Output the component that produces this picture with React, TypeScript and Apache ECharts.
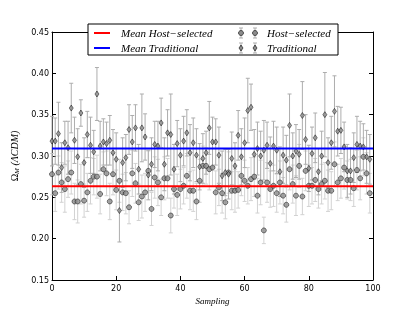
import React, { useEffect, useRef } from "react";
import * as echarts from "echarts";

const sampling: number[] = Array.from({ length: 100 }, (_, i) => i);

const hostValues: number[] = [
  0.278, 0.255, 0.280, 0.268, 0.260, 0.272, 0.280, 0.245, 0.245, 0.266,
  0.246, 0.256, 0.270, 0.275, 0.275, 0.254, 0.284, 0.279, 0.245, 0.278,
  0.259, 0.270, 0.256, 0.255, 0.238, 0.279, 0.267, 0.244, 0.251, 0.256,
  0.282, 0.236, 0.274, 0.268, 0.250, 0.273, 0.273, 0.228, 0.260, 0.253,
  0.260, 0.264, 0.276, 0.258, 0.258, 0.245, 0.270, 0.288, 0.288, 0.284,
  0.286, 0.256, 0.262, 0.255, 0.244, 0.280, 0.258, 0.258, 0.259, 0.276,
  0.270, 0.264, 0.272, 0.275, 0.252, 0.268, 0.210, 0.268, 0.260, 0.264,
  0.255, 0.268, 0.252, 0.241, 0.284, 0.266, 0.252, 0.288, 0.251, 0.282,
  0.264, 0.264, 0.271, 0.260, 0.266, 0.270, 0.258, 0.258, 0.290, 0.268,
  0.273, 0.286, 0.271, 0.271, 0.261, 0.283, 0.273, 0.299, 0.279, 0.255,
];

const hostErrors: number[] = [
  0.025, 0.022, 0.020, 0.024, 0.028, 0.022, 0.026, 0.022, 0.026, 0.024,
  0.020, 0.023, 0.028, 0.022, 0.026, 0.024, 0.021, 0.027, 0.022, 0.025,
  0.024, 0.026, 0.022, 0.025, 0.020, 0.028, 0.024, 0.022, 0.026, 0.023,
  0.024, 0.020, 0.025, 0.028, 0.022, 0.026, 0.024, 0.021, 0.023, 0.025,
  0.024, 0.022, 0.027, 0.023, 0.025, 0.022, 0.026, 0.024, 0.022, 0.025,
  0.023, 0.026, 0.022, 0.024, 0.020, 0.025, 0.023, 0.026, 0.022, 0.024,
  0.025, 0.022, 0.026, 0.024, 0.021, 0.027, 0.016, 0.024, 0.022, 0.025,
  0.023, 0.026, 0.022, 0.021, 0.025, 0.023, 0.024, 0.026, 0.022, 0.024,
  0.025, 0.022, 0.026, 0.023, 0.024, 0.022, 0.025, 0.023, 0.027, 0.022,
  0.024, 0.026, 0.023, 0.025, 0.022, 0.024, 0.026, 0.023, 0.025, 0.024,
];

const tradValues: number[] = [
  0.318, 0.318, 0.327, 0.286, 0.316, 0.310, 0.358, 0.319, 0.299, 0.352,
  0.292, 0.326, 0.313, 0.305, 0.375, 0.312, 0.317, 0.315, 0.319, 0.304,
  0.296, 0.234, 0.292, 0.298, 0.332, 0.317, 0.334, 0.284, 0.334, 0.323,
  0.277, 0.290, 0.314, 0.312, 0.340, 0.290, 0.328, 0.326, 0.284, 0.315,
  0.301, 0.318, 0.328, 0.304, 0.316, 0.301, 0.287, 0.297, 0.304, 0.334,
  0.317, 0.317, 0.301, 0.276, 0.280, 0.278, 0.297, 0.288, 0.325, 0.299,
  0.316, 0.355, 0.359, 0.302, 0.309, 0.300, 0.307, 0.313, 0.291, 0.312,
  0.307, 0.281, 0.301, 0.295, 0.337, 0.300, 0.306, 0.302, 0.349, 0.320,
  0.285, 0.303, 0.322, 0.281, 0.300, 0.350, 0.292, 0.316, 0.354, 0.330,
  0.331, 0.311, 0.282, 0.282, 0.298, 0.314, 0.312, 0.311, 0.299, 0.296,
];

const tradErrors: number[] = [
  0.030, 0.028, 0.038, 0.030, 0.026, 0.032, 0.030, 0.028, 0.034, 0.016,
  0.030, 0.028, 0.034, 0.026, 0.032, 0.030, 0.028, 0.026, 0.030, 0.028,
  0.032, 0.038, 0.030, 0.028, 0.030, 0.032, 0.028, 0.030, 0.041, 0.028,
  0.030, 0.032, 0.028, 0.030, 0.030, 0.032, 0.028, 0.049, 0.030, 0.028,
  0.032, 0.030, 0.028, 0.034, 0.030, 0.032, 0.028, 0.030, 0.026, 0.032,
  0.030, 0.028, 0.034, 0.030, 0.028, 0.030, 0.032, 0.028, 0.030, 0.034,
  0.030, 0.039, 0.028, 0.030, 0.032, 0.030, 0.036, 0.028, 0.032, 0.030,
  0.028, 0.030, 0.034, 0.030, 0.038, 0.028, 0.032, 0.030, 0.041, 0.030,
  0.028, 0.032, 0.030, 0.028, 0.030, 0.051, 0.030, 0.032, 0.043, 0.030,
  0.028, 0.030, 0.032, 0.028, 0.030, 0.034, 0.030, 0.028, 0.032, 0.030,
];

const meanHost = 0.2635;
const meanTrad = 0.309;
const xTicks = { min: 0, max: 100, interval: 20 };
const yTicks = { min: 0.15, max: 0.45, interval: 0.05 };

const MARKER_FILL = "#8c8c8c";
const HOST_ERR = "#d2d2d2";
const TRAD_ERR = "#adadad";

function errorSeries(name: string, vals: number[], errs: number[], color: string) {
  return {
    type: "custom",
    name,
    silent: true,
    z: 1,
    data: sampling.map((x, i) => [x, vals[i], errs[i]]),
    encode: { x: 0, y: 1 },
    renderItem: (_p: any, api: any) => {
      const x = api.value(0);
      const y = api.value(1);
      const e = api.value(2);
      const t = api.coord([x, y + e]);
      const b = api.coord([x, y - e]);
      const cw = 2;
      const st = { stroke: color, lineWidth: 1 };
      return {
        type: "group",
        children: [
          { type: "line", shape: { x1: t[0], y1: t[1], x2: b[0], y2: b[1] }, style: st },
          { type: "line", shape: { x1: t[0] - cw, y1: t[1], x2: t[0] + cw, y2: t[1] }, style: st },
          { type: "line", shape: { x1: b[0] - cw, y1: b[1], x2: b[0] + cw, y2: b[1] }, style: st },
        ],
      };
    },
  };
}

export default function App() {
  const ref = useRef<HTMLDivElement>(null);
  useEffect(() => {
    if (!ref.current) return;
    const chart = echarts.init(ref.current, null, { renderer: "svg" });
    const axisCommon = {
      type: "value",
      axisLine: { show: true, onZero: false, lineStyle: { color: "#000", width: 1 } },
      axisTick: { show: true, inside: true, length: 4, lineStyle: { color: "#000" } },
      splitLine: { show: false },
    };
    const labelStyle = { color: "#000", fontSize: 8, fontFamily: "DejaVu Sans" };
    const serifItalic = { fontFamily: "Liberation Serif", fontStyle: "italic", color: "#000" };

    const Z = 100;
    const legendMarker = (cx: number, cy: number, kind: string, errColor: string) => {
      const st = { stroke: errColor, lineWidth: 1 };
      const shape =
        kind === "circle"
          ? { type: "circle", z: Z + 2, shape: { cx, cy, r: 2.5 }, style: { fill: MARKER_FILL, stroke: "#000", lineWidth: 0.6 } }
          : {
              type: "polygon",
              z: Z + 2,
              shape: { points: [[cx, cy - 3], [cx + 2, cy], [cx, cy + 3], [cx - 2, cy]] },
              style: { fill: MARKER_FILL, stroke: "#000", lineWidth: 0.6 },
            };
      return [
        { type: "line", z: Z + 1, shape: { x1: cx, y1: cy - 5, x2: cx, y2: cy + 5 }, style: st },
        { type: "line", z: Z + 1, shape: { x1: cx - 2, y1: cy - 5, x2: cx + 2, y2: cy - 5 }, style: st },
        { type: "line", z: Z + 1, shape: { x1: cx - 2, y1: cy + 5, x2: cx + 2, y2: cy + 5 }, style: st },
        shape,
      ];
    };
    const legendText = (x: number, y: number, text: string) => ({
      type: "text",
      z: Z + 1,
      x,
      y,
      style: { text, ...serifItalic, fill: "#000", fontSize: 11, verticalAlign: "middle" },
    });

    chart.setOption({
      animation: false,
      grid: { left: 52, right: 42, top: 32, bottom: 32, show: false },
      xAxis: [
        {
          ...axisCommon,
          ...xTicks,
          position: "bottom",
          axisLabel: { ...labelStyle, margin: 4 },
          name: "Sampling",
          nameLocation: "middle",
          nameGap: 12,
          nameTextStyle: { ...serifItalic, fontSize: 9 },
        },
        { ...axisCommon, ...xTicks, position: "top", axisLabel: { show: false } },
      ],
      yAxis: [
        {
          ...axisCommon,
          ...yTicks,
          position: "left",
          axisLabel: { ...labelStyle, margin: 3, formatter: (v: number) => v.toFixed(2) },
          name: "{o|Ω}{s|M}{a| (ΛCDM)}",
          nameLocation: "middle",
          nameGap: 25,
          nameRotate: 90,
          nameTextStyle: {
            rich: {
              o: { ...serifItalic, fontStyle: "normal", fontSize: 10 },
              a: { ...serifItalic, fontSize: 10 },
              s: { ...serifItalic, fontSize: 7, padding: [5, 0, 0, 0] },
            },
          },
        },
        { ...axisCommon, ...yTicks, position: "right", axisLabel: { show: false } },
      ],
      series: [
        errorSeries("Host−selected err", hostValues, hostErrors, HOST_ERR),
        errorSeries("Traditional err", tradValues, tradErrors, TRAD_ERR),
        {
          type: "scatter",
          name: "Host−selected",
          z: 3,
          symbol: "circle",
          symbolSize: 5,
          itemStyle: { color: MARKER_FILL, borderColor: "#000", borderWidth: 0.6 },
          data: sampling.map((x, i) => [x, hostValues[i]]),
        },
        {
          type: "scatter",
          name: "Traditional",
          z: 3,
          symbol: "diamond",
          symbolSize: [4, 6],
          itemStyle: { color: MARKER_FILL, borderColor: "#000", borderWidth: 0.6 },
          data: sampling.map((x, i) => [x, tradValues[i]]),
        },
        {
          type: "line",
          name: "Mean Host−selected",
          z: 4,
          symbol: "none",
          lineStyle: { color: "#ff0000", width: 2 },
          data: [[xTicks.min, meanHost], [xTicks.max, meanHost]],
        },
        {
          type: "line",
          name: "Mean Traditional",
          z: 4,
          symbol: "none",
          lineStyle: { color: "#0000ff", width: 2 },
          data: [[xTicks.min, meanTrad], [xTicks.max, meanTrad]],
        },
      ],
      graphic: [
        {
          type: "rect",
          z: Z,
          shape: { x: 88, y: 24, width: 250, height: 31 },
          style: { fill: "#fff", stroke: "#000", lineWidth: 1 },
        },
        { type: "line", z: Z + 1, shape: { x1: 94, y1: 33, x2: 110, y2: 33 }, style: { stroke: "#ff0000", lineWidth: 2 } },
        { type: "line", z: Z + 1, shape: { x1: 94, y1: 48, x2: 110, y2: 48 }, style: { stroke: "#0000ff", lineWidth: 2 } },
        legendText(121, 33, "Mean Host−selected"),
        legendText(121, 48, "Mean Traditional"),
        ...legendMarker(241, 33, "circle", TRAD_ERR),
        ...legendMarker(255, 33, "circle", TRAD_ERR),
        ...legendMarker(241, 48, "diamond", TRAD_ERR),
        ...legendMarker(255, 48, "diamond", TRAD_ERR),
        legendText(267, 33, "Host−selected"),
        legendText(267, 48, "Traditional"),
      ],
    });
    return () => chart.dispose();
  }, []);
  return <div ref={ref} style={{ position: "fixed", left: 0, top: 0, width: 415, height: 312 }} />;
}
